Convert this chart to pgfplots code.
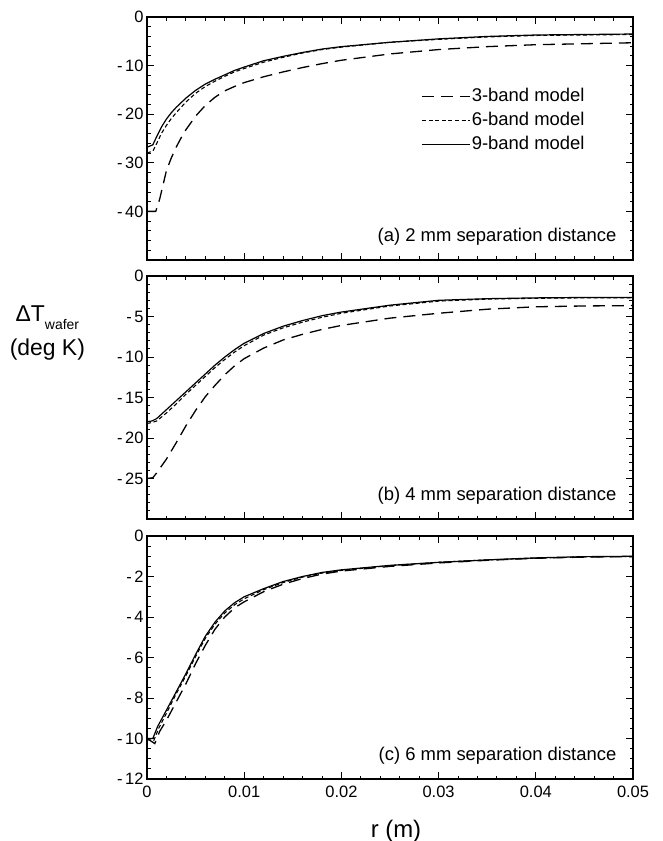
\documentclass[border=0pt]{standalone}
\usepackage{fontspec}
\setmainfont{Liberation Sans}
\usepackage{pgfplots}
\pgfplotsset{compat=1.18}

% minus sign as set in the tick labels
\newcommand\mn{-\kern2.5bp}

\pgfplotsset{
  panel/.style={
    scale only axis, width=486bp, height=243bp,
    xmin=0, xmax=0.05,
    xtick={0,0.01,0.02,0.03,0.04,0.05}, minor x tick num=4,
    tick align=inside, xtick pos=both, ytick pos=both,
    major tick length=7bp, minor tick length=3.5bp,
    every tick/.style={black, line width=0.9bp},
    axis line style={line width=1.2bp},
    tick label style={font=\fontsize{16.5}{16.5}\selectfont},
    xticklabel style={yshift=-3bp},
    /pgf/number format/assume math mode=true,
    xticklabels={},
    scaled x ticks=false,
  },
}
\tikzset{
  m3/.style={black, line width=1.3bp, dash pattern=on 12bp off 7bp},
  m6/.style={black, line width=1.1bp, dash pattern=on 4bp off 2.6bp},
  m9/.style={black, line width=1.2bp},
  plabel/.style={anchor=base east, font=\fontsize{18.5}{18.5}\selectfont},
}

\begin{document}
\begin{tikzpicture}
\path[use as bounding box] (0,0) rectangle (663bp,-841bp);

% (a) 2 mm
\begin{axis}[panel, at={(147bp,-17bp)}, anchor=north west,
  ymin=-50, ymax=0, ytick={-50,-40,-30,-20,-10,0},
  yticklabels={,\mn40,\mn30,\mn20,\mn10,0}, minor y tick num=4,
  legend style={at={(rel axis cs:0.564,0.713)}, anchor=north west,
    draw=none, fill=none, inner sep=0pt, row sep=5bp,
    font=\fontsize{18.5}{18.5}\selectfont,
    nodes={inner sep=1.2pt, text height=13.2bp, text depth=3.5bp}},
  legend cell align=left,
  legend image code/.code={\draw[#1] (0bp,0bp) -- (48bp,0bp);},
]
\addplot[m3] coordinates {
(0,-40.0) (0.0009,-40.0) (0.0013,-37.5) (0.002,-31.6) (0.0025,-29.0)
(0.003,-26.8) (0.0035,-24.9) (0.004,-23.2) (0.005,-20.4) (0.006,-18.2)
(0.007,-16.5) (0.008,-15.2) (0.009,-14.3) (0.010,-13.5) (0.012,-12.3)
(0.014,-11.3) (0.016,-10.4) (0.018,-9.6) (0.020,-8.9) (0.025,-7.6)
(0.030,-6.7) (0.035,-6.1) (0.040,-5.7) (0.045,-5.5) (0.050,-5.3)};
\addlegendentry{3-band model}
\addplot[m6] coordinates {
(0,-28.0) (0.0006,-27.6) (0.001,-26.0) (0.0015,-23.9) (0.002,-22.3)
(0.0025,-20.9) (0.003,-19.7) (0.004,-17.5) (0.005,-15.7) (0.006,-14.3)
(0.007,-13.2) (0.008,-12.2) (0.009,-11.3) (0.010,-10.6) (0.012,-9.3)
(0.014,-8.3) (0.016,-7.4) (0.018,-6.7) (0.020,-6.2) (0.025,-5.2)
(0.030,-4.6) (0.035,-4.1) (0.040,-3.8) (0.045,-3.7) (0.050,-3.6)};
\addlegendentry{6-band model}
\addplot[m9] coordinates {
(0,-26.8) (0.0006,-26.3) (0.001,-24.6) (0.0015,-22.6) (0.002,-21.0)
(0.0025,-19.7) (0.003,-18.6) (0.004,-16.7) (0.005,-15.1) (0.006,-13.8)
(0.007,-12.8) (0.008,-11.9) (0.009,-11.0) (0.010,-10.3) (0.012,-9.0)
(0.014,-8.1) (0.016,-7.3) (0.018,-6.6) (0.020,-6.1) (0.025,-5.2)
(0.030,-4.5) (0.035,-4.0) (0.040,-3.7) (0.045,-3.6) (0.050,-3.5)};
\addlegendentry{9-band model}
\node[plabel] at (rel axis cs:0.973,0.078) {(a) 2 mm separation distance};
\end{axis}

% (b) 4 mm
\begin{axis}[panel, at={(147bp,-276bp)}, anchor=north west,
  ymin=-30, ymax=0, ytick={-30,-25,-20,-15,-10,-5,0},
  yticklabels={,\mn25,\mn20,\mn15,\mn10,\mn5,0}, minor y tick num=4,
  ylabel={ΔT\raisebox{-8bp}{\fontsize{14}{14}\selectfont wafer}\\(deg K)},
  ylabel style={rotate=-90, at={(rel axis cs:-0.205,0.765)}, anchor=center,
    align=center, font=\fontsize{23}{34}\selectfont},
]
\addplot[m3] coordinates {
(0,-25.0) (0.0006,-24.9) (0.001,-24.3) (0.002,-22.6) (0.003,-20.6)
(0.004,-18.5) (0.005,-16.6) (0.006,-14.9) (0.007,-13.5) (0.008,-12.2)
(0.009,-11.1) (0.010,-10.2) (0.012,-8.9) (0.014,-7.9) (0.016,-7.2)
(0.018,-6.6) (0.020,-6.1) (0.025,-5.2) (0.030,-4.6) (0.035,-4.1)
(0.040,-3.8) (0.045,-3.7) (0.050,-3.65)};
\addplot[m6] coordinates {
(0,-18.2) (0.0005,-18.1) (0.001,-17.9) (0.002,-16.9) (0.003,-15.8)
(0.004,-14.6) (0.005,-13.5) (0.006,-12.4) (0.007,-11.3) (0.008,-10.3)
(0.009,-9.4) (0.010,-8.6) (0.012,-7.3) (0.014,-6.4) (0.016,-5.7)
(0.018,-5.1) (0.020,-4.6) (0.025,-3.7) (0.030,-3.1) (0.035,-2.85)
(0.040,-2.75) (0.045,-2.7) (0.050,-2.7)};
\addplot[m9] coordinates {
(0,-18.0) (0.0005,-17.9) (0.001,-17.6) (0.002,-16.5) (0.003,-15.4)
(0.004,-14.3) (0.005,-13.2) (0.006,-12.1) (0.007,-11.0) (0.008,-10.0)
(0.009,-9.1) (0.010,-8.3) (0.012,-7.1) (0.014,-6.2) (0.016,-5.5)
(0.018,-4.9) (0.020,-4.45) (0.025,-3.6) (0.030,-3.0) (0.035,-2.8)
(0.040,-2.7) (0.045,-2.65) (0.050,-2.65)};
\node[plabel] at (rel axis cs:0.973,0.078) {(b) 4 mm separation distance};
\end{axis}

% (c) 6 mm
\begin{axis}[panel, at={(147bp,-536bp)}, anchor=north west,
  ymin=-12, ymax=0, ytick={-12,-10,-8,-6,-4,-2,0},
  yticklabels={\mn12,\mn10,\mn8,\mn6,\mn4,\mn2,0}, minor y tick num=3,
  xticklabels={0,0.01,0.02,0.03,0.04,0.05},
  xlabel={r (m)},
  xlabel style={at={(rel axis cs:0.5,0)}, anchor=base, xshift=6bp, yshift=-58bp,
    font=\fontsize{24}{24}\selectfont},
]
\addplot[m3] coordinates {
(0,-10.0) (0.0008,-10.25) (0.0013,-9.65) (0.002,-9.1) (0.003,-8.2)
(0.004,-7.3) (0.005,-6.3) (0.006,-5.4) (0.007,-4.6) (0.008,-4.0)
(0.009,-3.55) (0.010,-3.25) (0.012,-2.75) (0.014,-2.38) (0.016,-2.1)
(0.018,-1.88) (0.020,-1.73) (0.025,-1.5) (0.030,-1.33) (0.035,-1.2)
(0.040,-1.1) (0.045,-1.04) (0.050,-1.02)};
\addplot[m6] coordinates {
(0,-10.05) (0.0007,-10.1) (0.0012,-9.5) (0.002,-8.75) (0.003,-7.8)
(0.004,-6.9) (0.005,-5.95) (0.006,-5.05) (0.007,-4.35) (0.008,-3.8)
(0.009,-3.4) (0.010,-3.1) (0.012,-2.65) (0.014,-2.3) (0.016,-2.03)
(0.018,-1.83) (0.020,-1.7) (0.025,-1.46) (0.030,-1.3) (0.035,-1.18)
(0.040,-1.09) (0.045,-1.03) (0.050,-1.01)};
\addplot[m9] coordinates {
(0,-10.0) (0.0006,-10.0) (0.0011,-9.4) (0.002,-8.6) (0.003,-7.7)
(0.004,-6.8) (0.005,-5.85) (0.006,-4.95) (0.007,-4.25) (0.008,-3.7)
(0.009,-3.3) (0.010,-3.0) (0.012,-2.6) (0.014,-2.25) (0.016,-2.0)
(0.018,-1.8) (0.020,-1.67) (0.025,-1.45) (0.030,-1.3) (0.035,-1.18)
(0.040,-1.08) (0.045,-1.02) (0.050,-1.0)};
\node[plabel] at (rel axis cs:0.973,0.078) {(c) 6 mm separation distance};
\end{axis}
\end{tikzpicture}
\end{document}
